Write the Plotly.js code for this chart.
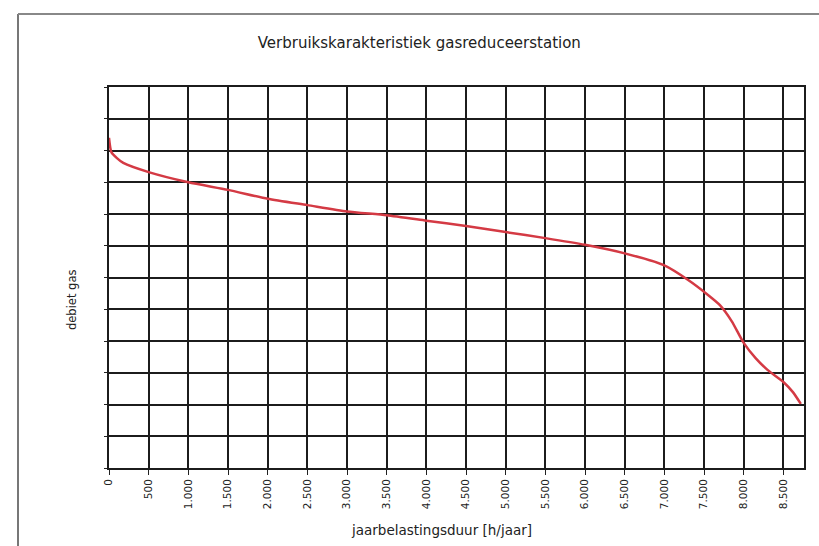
<!DOCTYPE html>
<html>
<head>
<meta charset="utf-8">
<script src="https://cdn.plot.ly/plotly-3.0.1.min.js"></script>
<style>
html,body{margin:0;padding:0;background:#fff;}
#chart{width:819px;height:546px;}
</style>
</head>
<body>
<div id="chart"></div>
<script>
// Duration (hours per year) and gas flow (relative units, grid units)
const hours = [0, 30, 100, 180, 500, 1000, 1500, 2000, 2500, 3000, 3500, 4000, 4500, 5000, 5500, 6000, 6500, 7000, 7300, 7550, 7700, 7850, 8000, 8150, 8300, 8500, 8620, 8720];
const flow  = [10.4, 9.95, 9.76, 9.61, 9.32, 9.0, 8.76, 8.48, 8.28, 8.08, 7.96, 7.79, 7.62, 7.43, 7.24, 7.03, 6.76, 6.38, 5.92, 5.45, 5.13, 4.62, 3.94, 3.46, 3.09, 2.71, 2.39, 2.02];

const tickVals = [0, 500, 1000, 1500, 2000, 2500, 3000, 3500, 4000, 4500, 5000, 5500, 6000, 6500, 7000, 7500, 8000, 8500];
const tickText = ["0", "500", "1.000", "1.500", "2.000", "2.500", "3.000", "3.500", "4.000", "4.500", "5.000", "5.500", "6.000", "6.500", "7.000", "7.500", "8.000", "8.500"];

const titleText = "Verbruikskarakteristiek gasreduceerstation";
const xTitle = "jaarbelastingsduur [h/jaar]";
const yTitle = "debiet gas";

const W = 819, H = 546;
const m = {l: 109, r: 15, t: 87, b: 78};
const pw = W - m.l - m.r, ph = H - m.t - m.b;
const px = v => (v - m.l) / pw;
const py = v => (H - m.b - v) / ph;
const FONT = 'DejaVu Sans, Verdana, sans-serif';

const trace = {
  x: hours, y: flow, type: 'scatter', mode: 'lines',
  line: {color: '#d43a44', width: 2.5, shape: 'spline', smoothing: 0.6},
  hoverinfo: 'x+y'
};

const layout = {
  width: W, height: H,
  margin: m,
  paper_bgcolor: '#fff', plot_bgcolor: '#fff',
  showlegend: false,
  font: {family: FONT, color: '#222', size: 10},
  title: {text: titleText, x: 0.512, xanchor: 'center', y: 0.921, yanchor: 'middle',
          font: {family: FONT, size: 15, color: '#222'}},
  xaxis: {
    range: [0, 8760], tickmode: 'array', tickvals: tickVals, ticktext: tickText,
    tickangle: -90, ticks: 'outside', ticklen: 5, tickcolor: '#222',
    showgrid: true, gridcolor: '#1c1c1c', gridwidth: 1.7,
    showline: true, linecolor: '#1c1c1c', linewidth: 1.8, mirror: true,
    zeroline: false, tickfont: {family: FONT, size: 10.5, color: '#222'}
  },
  yaxis: {
    range: [0, 12], dtick: 1, tick0: 0, showticklabels: false,
    ticks: 'outside', ticklen: 3, tickcolor: '#222',
    showgrid: true, gridcolor: '#1c1c1c', gridwidth: 1.7,
    showline: true, linecolor: '#1c1c1c', linewidth: 1.8, mirror: true,
    zeroline: false
  },
  annotations: [
    {text: xTitle, xref: 'paper', yref: 'paper', x: px(441), y: py(530),
     xanchor: 'center', yanchor: 'middle', showarrow: false,
     font: {family: FONT, size: 13.5, color: '#222'}},
    {text: yTitle, xref: 'paper', yref: 'paper', x: px(72), y: py(300),
     xanchor: 'center', yanchor: 'middle', showarrow: false, textangle: -90,
     font: {family: FONT, size: 11.5, color: '#222'}}
  ],
  shapes: [
    {type: 'line', xref: 'paper', yref: 'paper', x0: px(18), x1: px(18), y0: py(14), y1: py(546),
     line: {color: '#777', width: 2}},
    {type: 'line', xref: 'paper', yref: 'paper', x0: px(18), x1: px(819), y0: py(14), y1: py(14),
     line: {color: '#888', width: 2}}
  ]
};

Plotly.newPlot('chart', [trace], layout, {displayModeBar: false});
</script>
</body>
</html>
